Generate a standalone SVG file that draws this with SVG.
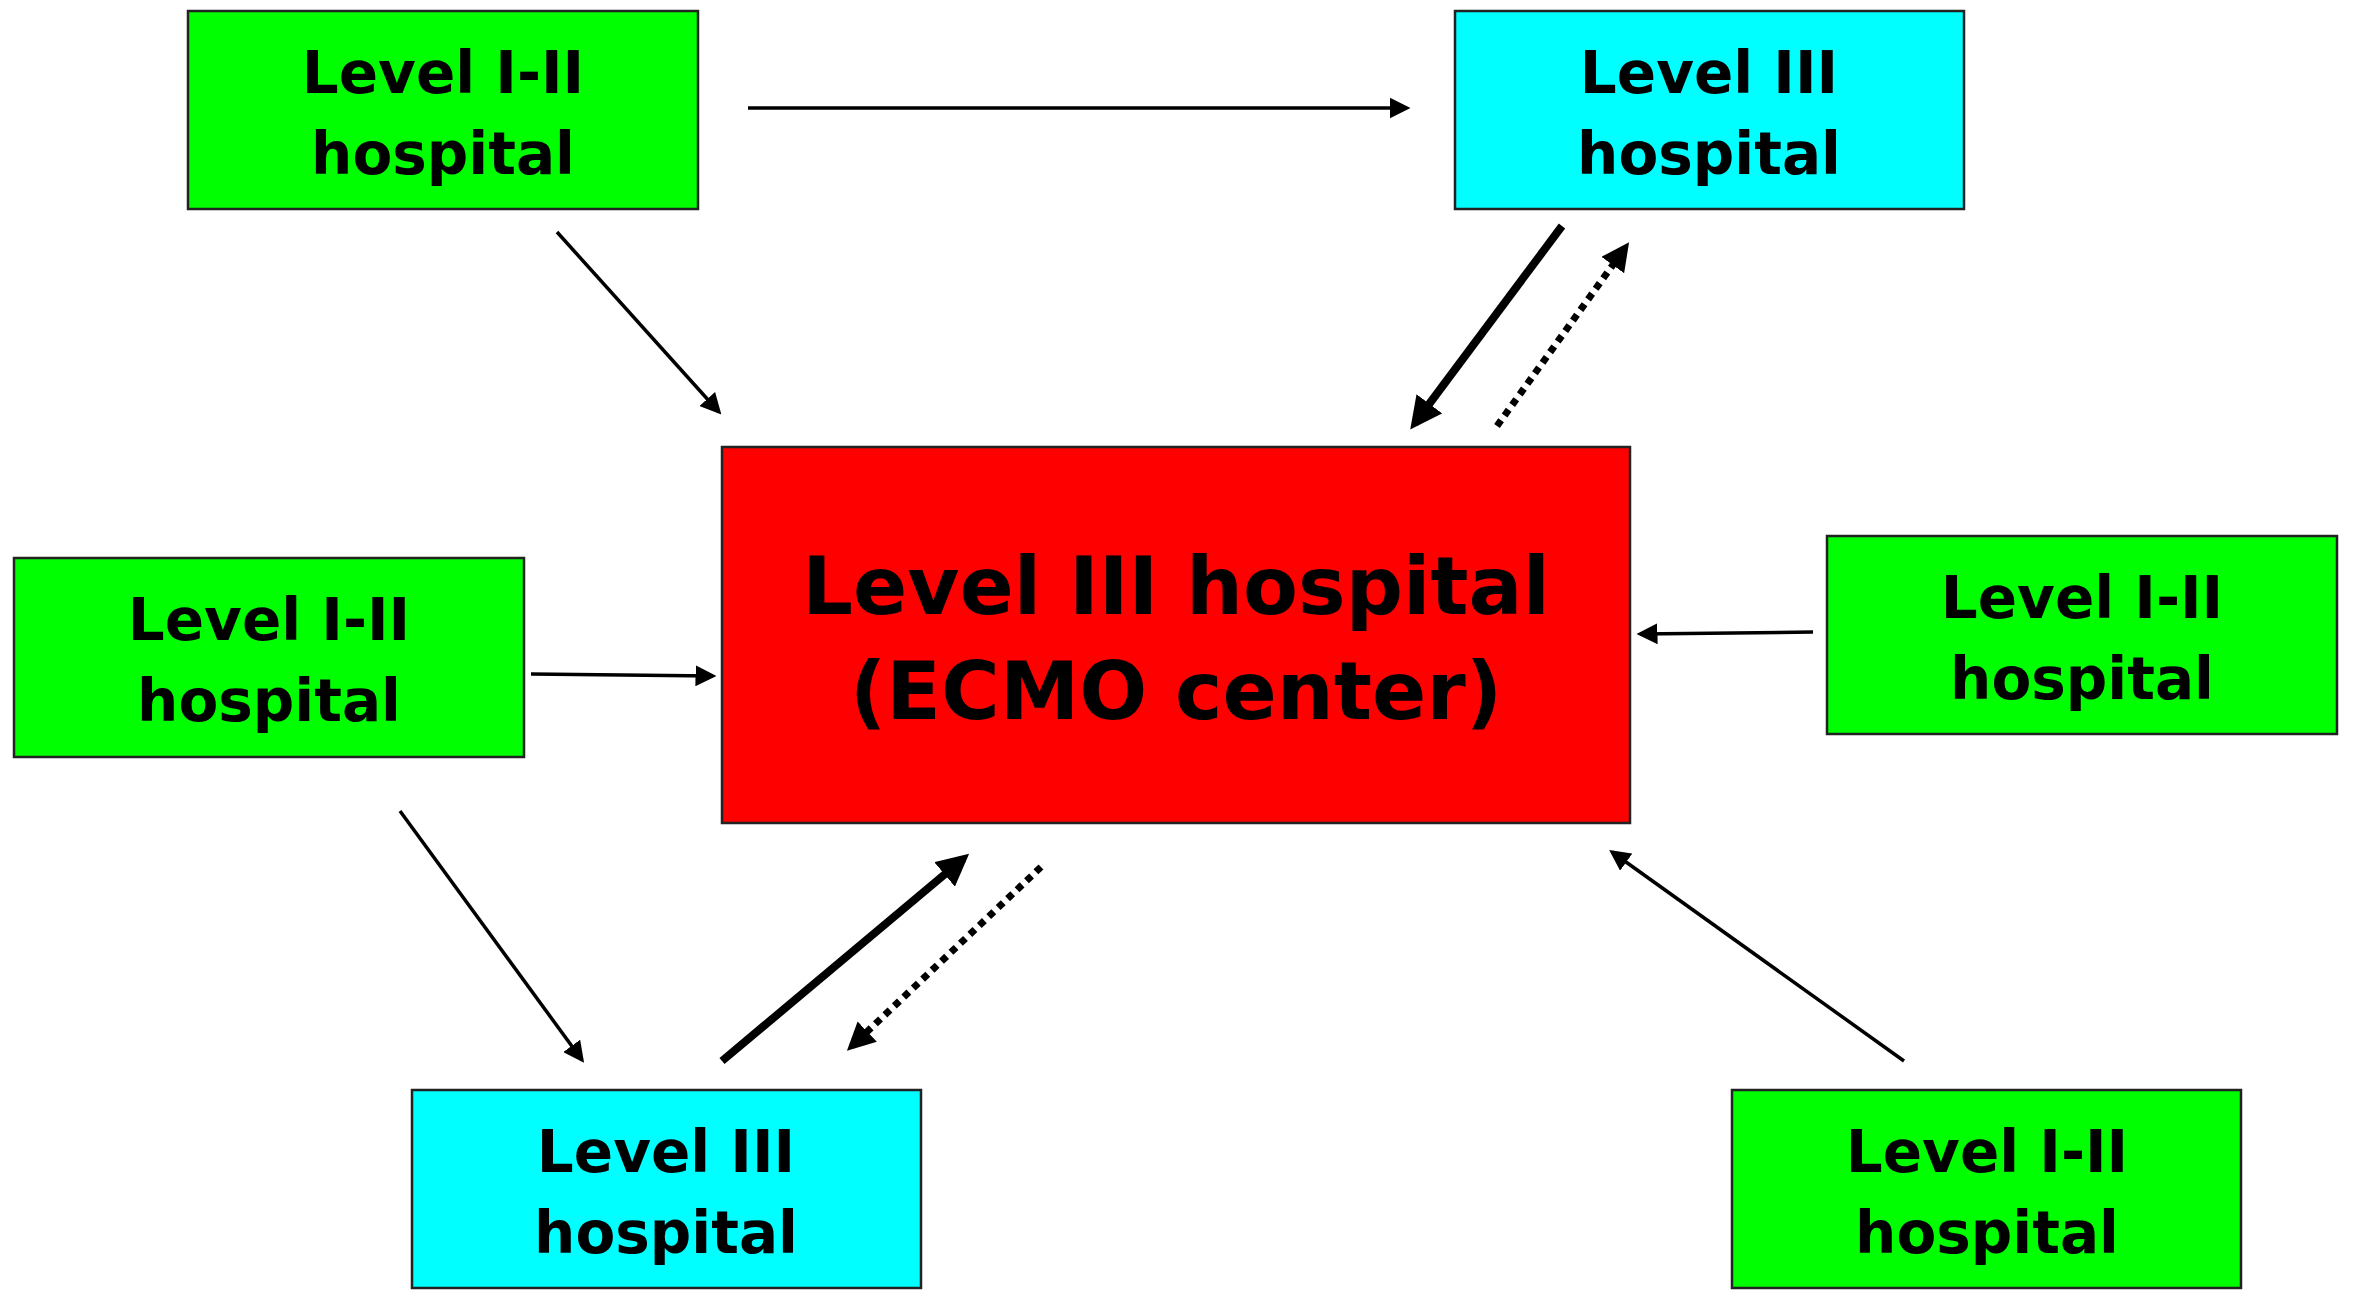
<svg xmlns="http://www.w3.org/2000/svg" width="2360" height="1309" viewBox="0 0 2360 1309">
<style>
.box{stroke:#222;stroke-width:2.5}
.g{fill:#00ff00}.c{fill:#00ffff}.r{fill:#ff0000}
text{font-family:"DejaVu Sans",Verdana,sans-serif;font-weight:bold;fill:#000;text-anchor:middle}
.t{font-size:58px}.big{font-size:80px}
.thin{stroke:#000;stroke-width:3.5;fill:none;marker-end:url(#ah)}
.thick{stroke:#000;stroke-width:8;fill:none;marker-end:url(#ah2)}
.dot{stroke:#000;stroke-width:7;stroke-dasharray:7 6;fill:none;marker-end:url(#ah2)}
</style>
<defs>
<marker id="ah" markerWidth="6" markerHeight="6" refX="5" refY="3" orient="auto" markerUnits="strokeWidth"><path d="M0,0 L6,3 L0,6 Z" fill="#000"/></marker>
<marker id="ah2" markerWidth="4" markerHeight="4" refX="3" refY="2" orient="auto" markerUnits="strokeWidth"><path d="M0,0 L4,2 L0,4 Z" fill="#000"/></marker>
</defs>
<rect width="2360" height="1309" fill="#fff"/>
<g id="n_tl"><rect class="box g" x="188" y="11" width="510" height="198"/><text class="t" x="443" y="93">Level I-II</text><text class="t" x="443" y="174">hospital</text></g>
<g id="n_tr"><rect class="box c" x="1455" y="11" width="509" height="198"/><text class="t" x="1709" y="93">Level III</text><text class="t" x="1709" y="174">hospital</text></g>
<g id="n_center"><rect class="box r" x="722" y="447" width="908" height="376"/><text class="big" x="1176" y="614">Level III hospital</text><text class="big" x="1176" y="719">(ECMO center)</text></g>
<g id="n_l"><rect class="box g" x="14" y="558" width="510" height="199"/><text class="t" x="269" y="640">Level I-II</text><text class="t" x="269" y="721">hospital</text></g>
<g id="n_r"><rect class="box g" x="1827" y="536" width="510" height="198"/><text class="t" x="2082" y="618">Level I-II</text><text class="t" x="2082" y="699">hospital</text></g>
<g id="n_b"><rect class="box c" x="412" y="1090" width="509" height="198"/><text class="t" x="666" y="1172">Level III</text><text class="t" x="666" y="1253">hospital</text></g>
<g id="n_br"><rect class="box g" x="1732" y="1090" width="509" height="198"/><text class="t" x="1987" y="1172">Level I-II</text><text class="t" x="1987" y="1253">hospital</text></g>
<g id="connectors">
<line class="thin" x1="748" y1="108" x2="1407" y2="108"/>
<line class="thin" x1="557" y1="232" x2="719" y2="412"/>
<line class="thick" x1="1562" y1="226" x2="1415" y2="423"/>
<line class="dot" x1="1497" y1="426" x2="1625" y2="248"/>
<line class="thin" x1="531" y1="674" x2="713" y2="676"/>
<line class="thin" x1="1813" y1="632" x2="1640" y2="634"/>
<line class="thin" x1="400" y1="811" x2="582" y2="1060"/>
<line class="thick" x1="722" y1="1061" x2="963" y2="859"/>
<line class="dot" x1="1041" y1="867" x2="852" y2="1046"/>
<line class="thin" x1="1904" y1="1061" x2="1612" y2="852"/>
</g>
</svg>
